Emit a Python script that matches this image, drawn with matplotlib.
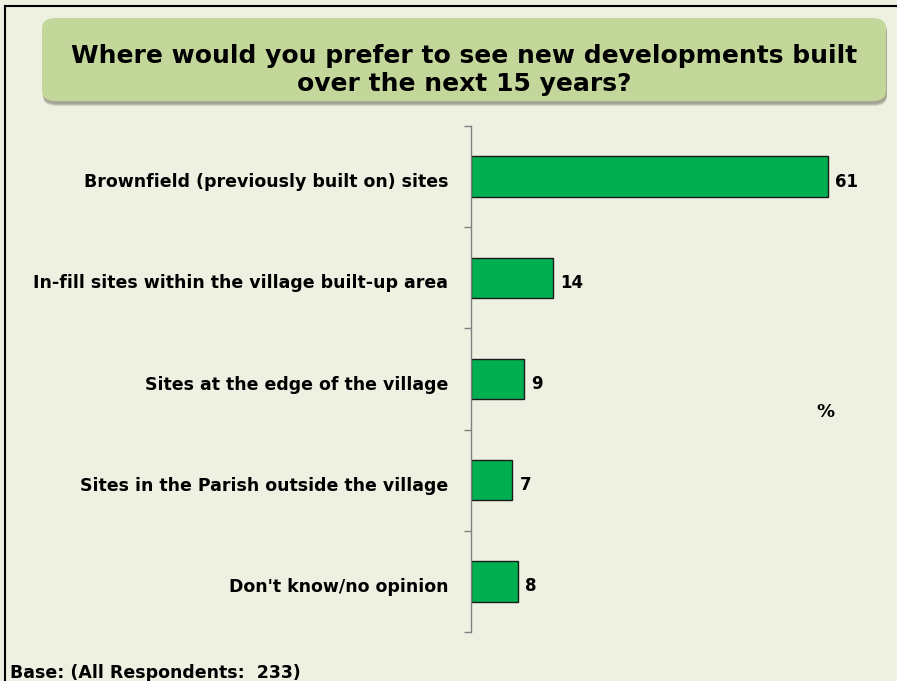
import matplotlib
matplotlib.use("Agg")
import matplotlib.pyplot as plt
from matplotlib.patches import FancyBboxPatch
from matplotlib.lines import Line2D

categories = [
    "Brownfield (previously built on) sites",
    "In-fill sites within the village built-up area",
    "Sites at the edge of the village",
    "Sites in the Parish outside the village",
    "Don't know/no opinion",
]
values = [61, 14, 9, 7, 8]
title = "Where would you prefer to see new developments built\nover the next 15 years?"
base_note = "Base: (All Respondents:  233)"

W, H = 897, 681
BG = "#EEF0E1"
fig = plt.figure(figsize=(W / 100, H / 100), dpi=100)
fig.patch.set_facecolor(BG)

def fx(px):
    return px / W

def fy(py):
    return 1 - py / H

# border lines (left and top)
fig.add_artist(Line2D([fx(5), fx(5)], [fy(6), 0], color="black", lw=1.5))
fig.add_artist(Line2D([fx(5), 1], [fy(6), fy(6)], color="black", lw=1.5))

# title box with shadow
bx0, by0, bx1, by1 = 42, 18, 886, 101
for off, a in [(5, 0.25), (4, 0.3), (3, 0.35)]:
    shadow = FancyBboxPatch((fx(bx0 + 1), fy(by1 + off)), fx(bx1 - bx0), fy(by0) - fy(by1),
                            boxstyle="round,pad=0,rounding_size=0.015",
                            transform=fig.transFigure, facecolor="#7f8470", edgecolor="none",
                            alpha=a, zorder=1)
    fig.add_artist(shadow)
box = FancyBboxPatch((fx(bx0), fy(by1)), fx(bx1 - bx0), fy(by0) - fy(by1),
                     boxstyle="round,pad=0,rounding_size=0.015",
                     transform=fig.transFigure, facecolor="#C4D79B", edgecolor="none",
                     zorder=2)
fig.add_artist(box)
fig.text(fx((bx0 + bx1) / 2), fy(70), title, ha="center", va="center",
         fontsize=18, fontweight="bold", family="DejaVu Sans", linespacing=1.18,
         zorder=3)

# axes
ax_left, ax_right = 471, 471 + 5.85 * 70
ax_top, ax_bot = 126, 632
ax = fig.add_axes([fx(ax_left), fy(ax_bot), fx(ax_right - ax_left), fy(ax_top) - fy(ax_bot)])
ax.set_facecolor("none")
n = len(categories)
ypos = list(range(n))
ax.barh(ypos, values, height=0.4, color="#00B050", edgecolor="#1a1a1a", linewidth=1.0)
ax.set_xlim(0, 70)
ax.set_ylim(n - 0.5, -0.5)
for y, v in zip(ypos, values):
    ax.text(v + 1.3, y + 0.05, str(v), va="center", ha="left", fontsize=12, fontweight="bold")

ax.set_yticks([i - 0.5 for i in range(n + 1)])
ax.set_yticklabels([])
ax.tick_params(axis="y", direction="out", length=5, color="#808080", width=1)
ax.set_yticks([y + 0.035 for y in ypos], minor=True)
ax.set_yticklabels(categories, minor=True, fontsize=12.5, fontweight="bold")
ax.tick_params(axis="y", which="minor", length=0, pad=16.5)
ax.set_xticks([])
for s in ["top", "right", "bottom"]:
    ax.spines[s].set_visible(False)
ax.spines["left"].set_color("#808080")
ax.spines["left"].set_linewidth(1)

fig.text(fx(825), fy(412), "%", ha="center", va="center", fontsize=13, fontweight="bold")
fig.text(fx(10), fy(673), base_note, ha="left", va="center", fontsize=12.5, fontweight="bold")

fig.savefig("out.png", dpi=100, facecolor=BG)
